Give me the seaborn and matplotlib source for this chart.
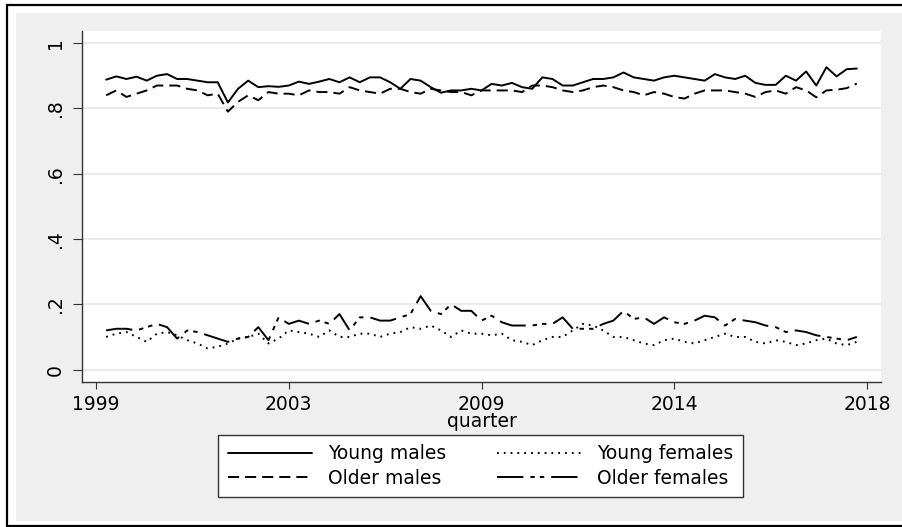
import numpy as np
import pandas as pd
import matplotlib
matplotlib.use("Agg")
import matplotlib.pyplot as plt
from matplotlib.patches import Rectangle
import seaborn as sns

# Employment shares by group, quarterly (1999-2018)
young_males = [0.888, 0.898, 0.89, 0.897, 0.885, 0.90, 0.905, 0.89, 0.89, 0.885,
               0.88, 0.88, 0.818, 0.86, 0.885, 0.865, 0.868, 0.866, 0.87, 0.882,
               0.875, 0.882, 0.89, 0.88, 0.895, 0.88, 0.895, 0.895, 0.88, 0.86,
               0.89, 0.885, 0.865, 0.848, 0.855, 0.855, 0.86, 0.855, 0.875, 0.87,
               0.878, 0.865, 0.86, 0.895, 0.89, 0.87, 0.87, 0.88, 0.89, 0.89,
               0.895, 0.91, 0.895, 0.89, 0.885, 0.895, 0.90, 0.895, 0.89, 0.885,
               0.905, 0.895, 0.89, 0.90, 0.878, 0.872, 0.872, 0.90, 0.885, 0.913,
               0.87, 0.926, 0.898, 0.92, 0.922]
older_males = [0.84, 0.855, 0.835, 0.845, 0.855, 0.87, 0.87, 0.87, 0.86, 0.855,
               0.84, 0.845, 0.79, 0.82, 0.84, 0.825, 0.85, 0.845, 0.845, 0.84,
               0.855, 0.85, 0.85, 0.845, 0.865, 0.855, 0.85, 0.845, 0.86, 0.86,
               0.85, 0.845, 0.86, 0.855, 0.85, 0.85, 0.84, 0.855, 0.855, 0.855,
               0.855, 0.85, 0.87, 0.87, 0.865, 0.855, 0.85, 0.855, 0.865, 0.87,
               0.865, 0.855, 0.85, 0.84, 0.85, 0.845, 0.835, 0.83, 0.845, 0.855,
               0.855, 0.855, 0.85, 0.845, 0.835, 0.85, 0.855, 0.845, 0.865, 0.855,
               0.834, 0.855, 0.857, 0.862, 0.876]
young_females = [0.10, 0.11, 0.115, 0.10, 0.085, 0.11, 0.115, 0.105, 0.09, 0.08,
                 0.065, 0.07, 0.08, 0.095, 0.10, 0.11, 0.08, 0.095, 0.12, 0.115,
                 0.11, 0.10, 0.12, 0.10, 0.10, 0.11, 0.11, 0.10, 0.11, 0.115,
                 0.13, 0.125, 0.135, 0.12, 0.10, 0.12, 0.11, 0.11, 0.105, 0.11,
                 0.09, 0.085, 0.075, 0.09, 0.10, 0.10, 0.12, 0.14, 0.135, 0.12,
                 0.10, 0.10, 0.09, 0.08, 0.075, 0.09, 0.095, 0.085, 0.08, 0.09,
                 0.10, 0.11, 0.10, 0.10, 0.085, 0.08, 0.09, 0.085, 0.075, 0.08,
                 0.09, 0.095, 0.08, 0.075, 0.085]
older_females = [0.12, 0.125, 0.125, 0.12, 0.13, 0.14, 0.13, 0.095, 0.12, 0.115,
                 0.105, 0.095, 0.085, 0.095, 0.10, 0.13, 0.09, 0.16, 0.14, 0.15,
                 0.14, 0.15, 0.14, 0.17, 0.12, 0.16, 0.16, 0.15, 0.15, 0.16,
                 0.17, 0.225, 0.18, 0.17, 0.20, 0.18, 0.18, 0.15, 0.165, 0.145,
                 0.135, 0.135, 0.135, 0.14, 0.14, 0.16, 0.125, 0.125, 0.125, 0.14,
                 0.15, 0.18, 0.155, 0.16, 0.14, 0.16, 0.145, 0.14, 0.15, 0.165,
                 0.16, 0.135, 0.155, 0.15, 0.145, 0.135, 0.13, 0.115, 0.12, 0.115,
                 0.105, 0.10, 0.095, 0.09, 0.10]

series_names = ["Young males", "Young females", "Older males", "Older females"]
tick_labels = ["1999", "2003", "2009", "2014", "2018"]
y_tick_labels = ["0", ".2", ".4", ".6", ".8", "1"]

quarter = np.arange(1, len(young_males) + 1)
df = pd.DataFrame({
    "quarter": quarter,
    "Young males": young_males,
    "Young females": young_females,
    "Older males": older_males,
    "Older females": older_females,
})

W, H = 902, 527
plt.rcParams["lines.scale_dashes"] = False
sns.set_style("white")
plt.rcParams["font.family"] = ["DejaVu Sans"]
plt.rcParams["text.color"] = "black"

fig = plt.figure(figsize=(W / 100, H / 100), dpi=100)
fig.patch.set_facecolor("white")

def px_rect(x0, y0, x1, y1, **kw):
    return Rectangle((x0 / W, 1 - y1 / H), (x1 - x0) / W, (y1 - y0) / H,
                     transform=fig.transFigure, **kw)

# outer frame and grey graph region, kept behind the axes
fig.add_artist(px_rect(7, 5, 910, 526, facecolor="white", edgecolor="black",
                       linewidth=1.6, zorder=-3))
fig.add_artist(px_rect(16, 13, 910, 521, facecolor="#efefef", edgecolor="none",
                       zorder=-2))

ax = fig.add_axes([82 / W, 1 - 382 / H, (881 - 82) / W, (382 - 31) / H])
ax.set_facecolor("white")

styles = {
    "Young males": "-",
    "Young females": (0, (1.3, 3.6)),
    "Older males": (0, (8.0, 4.3)),
    "Older females": (0, (19.0, 5.0, 3.2, 3.6, 3.2, 5.0)),
}
for name in series_names:
    sns.lineplot(data=df, x="quarter", y=name, ax=ax, color="black",
                 linewidth=1.4, linestyle=styles[name], label=name,
                 estimator=None)

ax.set_xlim(-1.38, 77.38)
ax.set_ylim(-0.038, 1.037)
ax.set_yticks(np.linspace(0, 1, 6))
ax.set_yticklabels(y_tick_labels, rotation=90, va="center")
ax.set_xticks(np.linspace(0, 76, 5))
ax.set_xticklabels(tick_labels)
ax.grid(axis="y", color="#ebebeb", linewidth=1.4)
ax.set_axisbelow(True)
for side in ["top", "right"]:
    ax.spines[side].set_visible(False)
for side in ["left", "bottom"]:
    ax.spines[side].set_color("#333333")
    ax.spines[side].set_linewidth(1.0)
ax.tick_params(axis="y", direction="out", length=6.5, width=0.8, color="#333333",
               labelsize=13.5, pad=6, left=True, labelcolor="black")
ax.tick_params(axis="x", direction="out", length=5, width=0.8, color="#333333",
               labelsize=13.5, pad=4, bottom=True, labelcolor="black")
ax.set_xlabel("quarter", fontsize=13.5, labelpad=-1, color="black")
ax.set_ylabel("")

ax.legend_.remove()
handles, labels = ax.get_legend_handles_labels()
hmap = dict(zip(labels, handles))
# column-wise fill: first column males, second column females
leg_order = ["Young males", "Older males", "Young females", "Older females"]
leg = fig.legend([hmap[n] for n in leg_order], leg_order, ncol=2, loc="center",
                 bbox_to_anchor=(480.5 / W, 1 - 466 / H), frameon=True,
                 fancybox=False, edgecolor="#333333", facecolor="white",
                 framealpha=1.0, fontsize=13.5, handlelength=4.5,
                 handletextpad=0.85, columnspacing=2.7, labelspacing=0.3,
                 borderpad=0.5)
leg.get_frame().set_linewidth(1.0)
for t in leg.get_texts():
    t.set_color("black")

fig.savefig("out.png", dpi=100)
